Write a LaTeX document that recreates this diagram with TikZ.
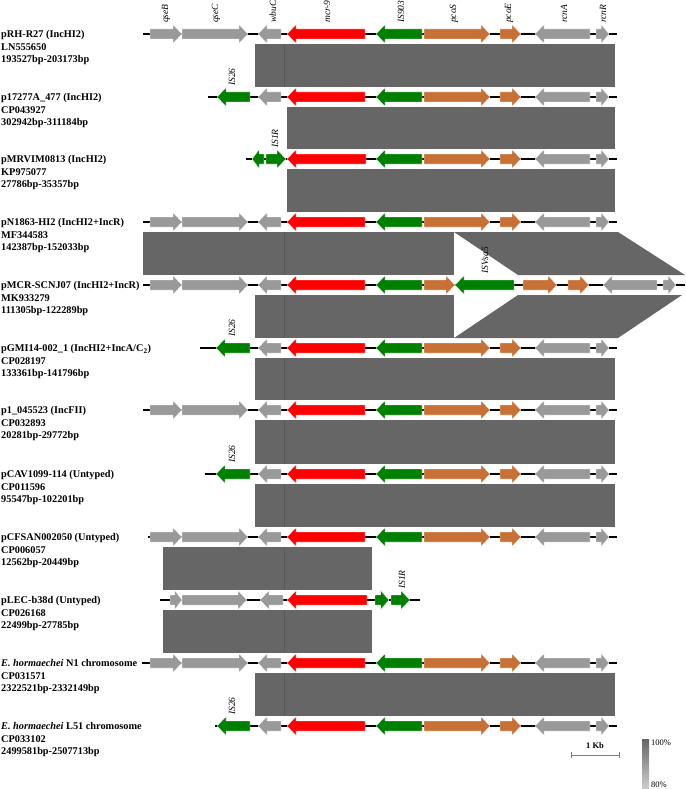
\documentclass[tikz,border=0pt]{standalone}
\usepackage{fontspec}
\setmainfont{Liberation Serif}
\definecolor{gg}{HTML}{999999}
\definecolor{rr}{HTML}{FF0000}
\definecolor{gn}{HTML}{008000}
\definecolor{orr}{HTML}{C87137}
\definecolor{bandc}{HTML}{666666}
\definecolor{segc}{HTML}{585858}
\newcommand{\gR}[4]{\pgfmathsetmacro\ghl{min(9,0.6*(#2-#1))}%
  \filldraw[fill=#4,draw=white,line width=0.3pt] (#1,#3-5) -- ({#2-\ghl},#3-5) -- ({#2-\ghl},#3-9.5) -- (#2,#3) -- ({#2-\ghl},#3+9.5) -- ({#2-\ghl},#3+5) -- (#1,#3+5) -- cycle;}
\newcommand{\gL}[4]{\pgfmathsetmacro\ghl{min(9,0.6*(#2-#1))}%
  \filldraw[fill=#4,draw=white,line width=0.3pt] (#2,#3-5) -- ({#1+\ghl},#3-5) -- ({#1+\ghl},#3-9.5) -- (#1,#3) -- ({#1+\ghl},#3+9.5) -- ({#1+\ghl},#3+5) -- (#2,#3+5) -- cycle;}
\newcommand{\leftgenes}[1]{\gR{150}{182}{#1}{gg}\gR{182}{248}{#1}{gg}}
\newcommand{\stdgenes}[1]{\gL{258}{281}{#1}{gg}\gL{287}{365}{#1}{rr}\gL{376}{422}{#1}{gn}%
  \gR{424}{490}{#1}{orr}\gR{500}{521}{#1}{orr}\gL{535}{590}{#1}{gg}\gR{596}{609}{#1}{gg}}
\tikzset{
  lab/.style={font=\bfseries\fontsize{10.3}{12}\selectfont, inner sep=0pt, anchor=base west},
  glab/.style={font=\itshape\fontsize{9.5}{10}\selectfont, inner sep=0pt, rotate=90, anchor=west},
  bline/.style={line width=1.8pt, black},
  band/.style={fill=bandc},
  seg/.style={segc, line width=0.5pt}
}
\newcommand{\rowlabel}[5]{%
  \node[lab] (#1a) at (1,#2+3.5) {#3};
  \node[lab] (#1b) at (1,#2+16.1) {#4};
  \node[lab] (#1c) at (1,#2+28.7) {#5};}
\begin{document}
\begin{tikzpicture}[x=1pt,y=-1pt]
\useasboundingbox (0,0) rectangle (685,789);
% ---- bands ----
\fill[band] (255,44) rectangle (615,87);
\draw[seg] (284,44) -- (284,87);
\fill[band] (287,107) rectangle (615,149);
\fill[band] (287,169) rectangle (615,212);
\fill[band] (143,232) rectangle (454,275);
\draw[seg] (284,232) -- (284,275);
\fill[band] (454,232) -- (618,232) -- (685,275) -- (518,275) -- cycle;
\fill[band] (255,295) rectangle (454,338);
\draw[seg] (284,295) -- (284,338);
\fill[band] (518,295) -- (682,295) -- (618,338) -- (454,338) -- cycle;
\fill[band] (255,358) rectangle (615,400);
\draw[seg] (284,358) -- (284,400);
\fill[band] (255,420) rectangle (615,464);
\draw[seg] (284,420) -- (284,464);
\fill[band] (255,484) rectangle (615,527);
\draw[seg] (284,484) -- (284,527);
\fill[band] (163,547) rectangle (372,590);
\draw[seg] (284,547) -- (284,590);
\fill[band] (163,610) rectangle (372,653);
\draw[seg] (284,610) -- (284,653);
\fill[band] (255,673) rectangle (615,716);
\draw[seg] (284,673) -- (284,716);
% ---- top gene labels ----
\node[glab] (tqseB) at (166,23) {qseB};
\node[glab] (tqseC) at (216,23) {qseC};
\node[glab] (twbuC) at (273,23) {wbuC};
\node[glab] (tmcr) at (327,23) {mcr-9};
\node[glab] (tis) at (401,23) {IS903};
\node[glab] (tpcoS) at (454,23) {pcoS};
\node[glab] (tpcoE) at (509,23) {pcoE};
\node[glab] (trcnA) at (564,23) {rcnA};
\node[glab] (trcnR) at (603,23) {rcnR};
% ---- row 1 ----
\draw[bline] (143,34) -- (617,34);
\leftgenes{34}\stdgenes{34}
\rowlabel{r1}{34}{pRH-R27 (IncHI2)}{LN555650}{193527bp-203173bp}
% ---- row 2 ----
\draw[bline] (208,97) -- (617,97);
\gL{217}{250}{97}{gn}\stdgenes{97}
\node[glab] (is2) at (232,86) {IS26};
\rowlabel{r2}{97}{p17277A\_477 (IncHI2)}{CP043927}{302942bp-311184bp}
% ---- row 3 ----
\draw[bline] (246,159) -- (617,159);
\gL{252}{264}{159}{gn}\gR{266}{286}{159}{gn}
\gL{287}{366}{159}{rr}\gL{376}{422}{159}{gn}
\gR{424}{490}{159}{orr}\gR{500}{521}{159}{orr}\gL{535}{590}{159}{gg}\gR{596}{609}{159}{gg}
\node[glab] (is3) at (275,148) {IS1R};
\rowlabel{r3}{159}{pMRVIM0813 (IncHI2)}{KP975077}{27786bp-35357bp}
% ---- row 4 ----
\draw[bline] (143,222) -- (617,222);
\leftgenes{222}\stdgenes{222}
\rowlabel{r4}{222}{pN1863-HI2 (IncHI2+IncR)}{MF344583}{142387bp-152033bp}
% ---- row 5 ----
\draw[bline] (143,285) -- (685,285);
\leftgenes{285}
\gL{258}{281}{285}{gg}\gL{287}{365}{285}{rr}\gL{376}{422}{285}{gn}
\gR{424}{455}{285}{orr}\gL{455}{514}{285}{gn}
\gR{523}{557}{285}{orr}\gR{568}{589}{285}{orr}
\gL{603}{657}{285}{gg}\gR{663}{676}{285}{gg}
\node[glab] (is5) at (485,274) {ISVsa5};
\rowlabel{r5}{285}{pMCR-SCNJ07 (IncHI2+IncR)}{MK933279}{111305bp-122289bp}
% ---- row 6 ----
\draw[bline] (200,348) -- (617,348);
\gL{216}{250}{348}{gn}\stdgenes{348}
\node[glab] (is6) at (232,337) {IS26};
\rowlabel{r6}{348}{pGMI14-002\_1 (IncHI2+IncA/C\textsubscript{2})}{CP028197}{133361bp-141796bp}
% ---- row 7 ----
\draw[bline] (143,410) -- (617,410);
\leftgenes{410}\stdgenes{410}
\rowlabel{r7}{410}{p1\_045523 (IncFII)}{CP032893}{20281bp-29772bp}
% ---- row 8 ----
\draw[bline] (205,474) -- (617,474);
\gL{216}{250}{474}{gn}\stdgenes{474}
\node[glab] (is8) at (232,463) {IS26};
\rowlabel{r8}{474}{pCAV1099-114 (Untyped)}{CP011596}{95547bp-102201bp}
% ---- row 9 ----
\draw[bline] (148,537) -- (617,537);
\leftgenes{537}\stdgenes{537}
\rowlabel{r9}{537}{pCFSAN002050 (Untyped)}{CP006057}{12562bp-20449bp}
% ---- row 10 ----
\draw[bline] (160,600) -- (420,600);
\gR{170}{182}{600}{gg}\gR{182}{247}{600}{gg}
\gL{260}{283}{600}{gg}\gL{287}{367}{600}{rr}
\gR{375}{389}{600}{gn}\gR{391}{410}{600}{gn}
\node[glab] (is10) at (402,589) {IS1R};
\rowlabel{r10}{600}{pLEC-b38d (Untyped)}{CP026168}{22499bp-27785bp}
% ---- row 11 ----
\draw[bline] (142,663) -- (617,663);
\leftgenes{663}\stdgenes{663}
\rowlabel{r11}{663}{\textit{E. hormaechei} N1 chromosome}{CP031571}{2322521bp-2332149bp}
% ---- row 12 ----
\draw[bline] (215,726) -- (617,726);
\gL{217}{250}{726}{gn}\stdgenes{726}
\node[glab] (is12) at (232,715) {IS26};
\rowlabel{r12}{726}{\textit{E. hormaechei} L51 chromosome}{CP033102}{2499581bp-2507713bp}
% ---- scale bar ----
\node[font=\bfseries\fontsize{8.5}{10}\selectfont, inner sep=0pt] (kb) at (595,746) {1 Kb};
\coordinate (sbl) at (571,755);
\coordinate (sbr) at (619,755);
\draw[gray, line width=0.6pt] (sbl) -- (sbr);
\draw[gray, line width=0.6pt] (571,752) -- (571,758) (619,752) -- (619,758);
% ---- legend ----
\shade[top color=bandc, bottom color=gray!40] (642,739) rectangle (649,788);
\node[font=\fontsize{8.5}{10}\selectfont, inner sep=0pt, anchor=west] (p100) at (651,743) {100\%};
\node[font=\fontsize{8.5}{10}\selectfont, inner sep=0pt, anchor=west] (p80) at (651,785) {80\%};
\end{tikzpicture}
\end{document}
